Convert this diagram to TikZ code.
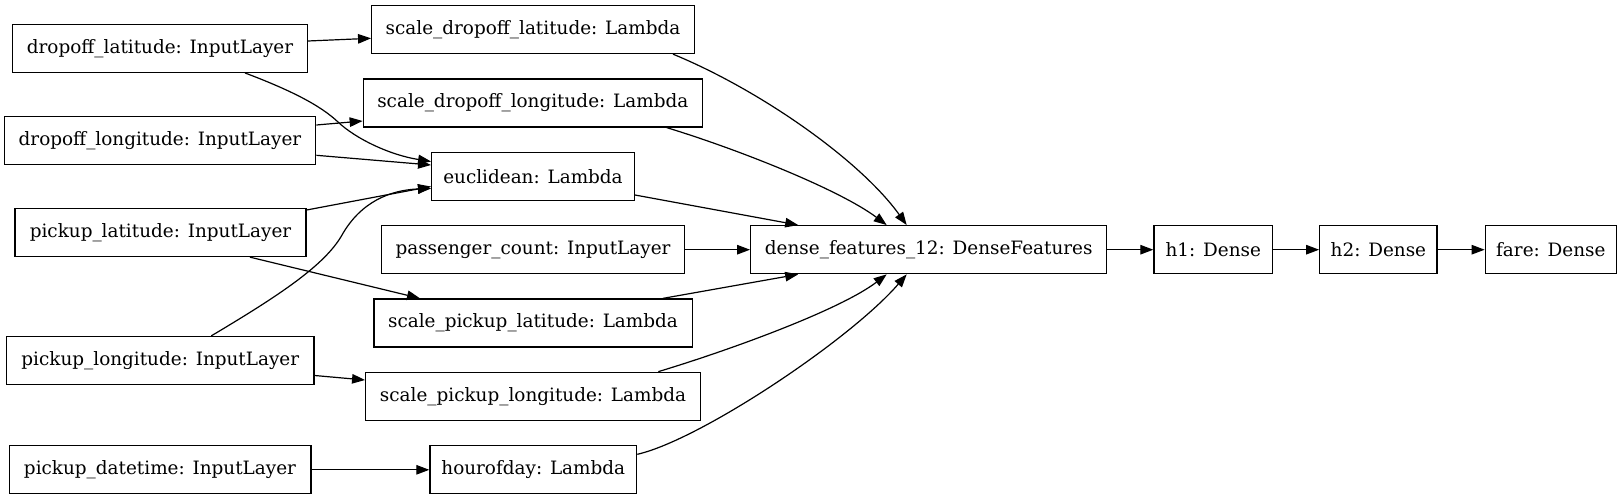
\documentclass[tikz,border=0pt]{standalone}
\usepackage{fontspec}
\setmainfont{DejaVu Serif}
\usetikzlibrary{arrows.meta}
\begin{document}
\begin{tikzpicture}[x=1pt,y=-1pt,
  lay/.style={draw=black, line width=1.3pt, rectangle, minimum height=48pt,
    minimum width=#1, inner sep=0pt, font=\fontsize{18.4}{22}\selectfont, fill=white},
  conn/.style={line width=1.2pt, -{Triangle[length=13pt,width=9.5pt]}}]
\useasboundingbox (0,0) rectangle (1621,500);
\node[lay=294.6pt] (dlat) at (160,48.3) {dropoff\_latitude: InputLayer};
\node[lay=322.6pt] (sdlat) at (533,29.5) {scale\_dropoff\_latitude: Lambda};
\node[lay=339pt] (sdlon) at (532.8,103) {scale\_dropoff\_longitude: Lambda};
\node[lay=311.4pt] (dlon) at (160,140.3) {dropoff\_longitude: InputLayer};
\node[lay=202.6pt] (eucl) at (533,176.5) {euclidean: Lambda};
\node[lay=291pt] (plat) at (160.5,232.5) {pickup\_latitude: InputLayer};
\node[lay=302.6pt] (pcount) at (533,249.7) {passenger\_count: InputLayer};
\node[lay=356pt] (dense) at (928.7,249.7) {dense\_features\_12: DenseFeatures};
\node[lay=118.7pt] (h1) at (1213.3,249.7) {h1: Dense};
\node[lay=117.3pt] (h2) at (1378.4,249.7) {h2: Dense};
\node[lay=131pt] (fare) at (1550.8,249.7) {fare: Dense};
\node[lay=318.3pt] (splat) at (533,323) {scale\_pickup\_latitude: Lambda};
\node[lay=307.3pt] (plon) at (160.3,360.5) {pickup\_longitude: InputLayer};
\node[lay=334.6pt] (splon) at (533,396.3) {scale\_pickup\_longitude: Lambda};
\node[lay=301.7pt] (pdt) at (160,469.8) {pickup\_datetime: InputLayer};
\node[lay=206.7pt] (hour) at (533.3,469.8) {hourofday: Lambda};

\draw[conn] ([shift={(0,-7.3)}]dlat.east) -- ([shift={(0,8.8)}]sdlat.west);
\draw[conn] ([shift={(85,0)}]dlat.south) .. controls (290,90) and (320,105) .. (338,122)
  .. controls (356,139) and (390,155) .. ([shift={(0,-15)}]eucl.west);
\draw[conn] ([shift={(0,-15.3)}]dlon.east) -- ([shift={(0,18)}]sdlon.west);
\draw[conn] ([shift={(0,15)}]dlon.east) -- ([shift={(0,-11.5)}]eucl.west);
\draw[conn] ([shift={(0,-22.5)}]plat.east) -- ([shift={(0,10)}]eucl.west);
\draw[conn] ([shift={(51,0)}]plon.north) .. controls (280,295) and (325,265) .. (342,235)
  .. controls (360.7,202) and (390,190) .. ([shift={(0,12)}]eucl.west);
\draw[conn] ([shift={(89.5,0)}]plat.south) -- ([shift={(-113,0)}]splat.north);
\draw[conn] ([shift={(0,15)}]plon.east) -- ([shift={(0,-16.3)}]splon.west);
\draw[conn] (pdt.east) -- (hour.west);
\draw[conn] ([shift={(140,0)}]sdlat.south) .. controls (760,90) and (860,160) .. ([shift={(-22,0)}]dense.north);
\draw[conn] ([shift={(134,0)}]sdlon.south) .. controls (740,150) and (840,190) .. ([shift={(-42,0)}]dense.north);
\draw[conn] ([shift={(0,18.5)}]eucl.east) -- ([shift={(-130.5,0)}]dense.north);
\draw[conn] (pcount.east) -- (dense.west);
\draw[conn] ([shift={(130,0)}]splat.north) -- ([shift={(-130.5,0)}]dense.south);
\draw[conn] ([shift={(125.3,0)}]splon.north) .. controls (730,350) and (840,310) .. ([shift={(-42,0)}]dense.south);
\draw[conn] ([shift={(0,-15.5)}]hour.east) .. controls (700,440) and (850,340) .. ([shift={(-22,0)}]dense.south);
\draw[conn] (dense.east) -- (h1.west);
\draw[conn] (h1.east) -- (h2.west);
\draw[conn] (h2.east) -- (fare.west);
\end{tikzpicture}
\end{document}
